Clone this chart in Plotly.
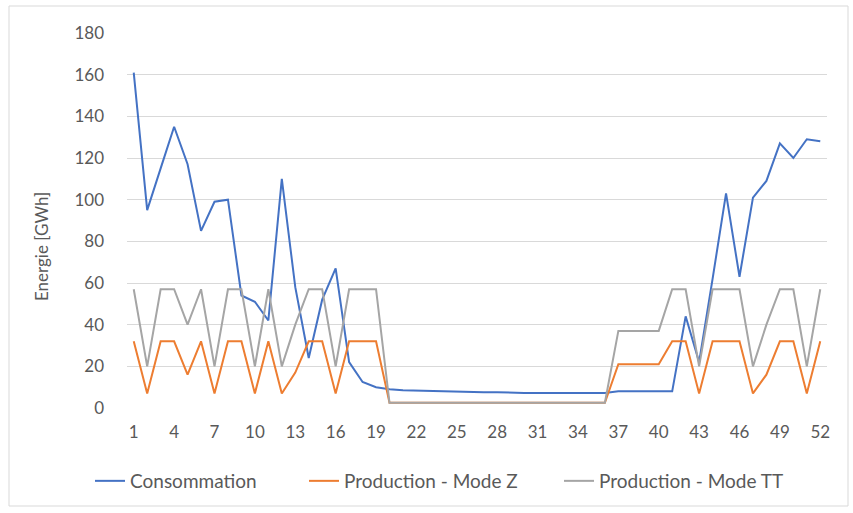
import plotly.graph_objects as go

# Weekly energy (GWh), weeks 1..52
weeks = list(range(1, 53))

consommation = [
    161, 95, 115, 135, 117, 85, 99, 100, 54, 51,
    42, 110, 58, 24, 52, 67, 22, 12.5, 10, 9,
    8.5, 8.3, 8.2, 8, 7.8, 7.6, 7.6, 7.6, 7.3, 7.2,
    7.2, 7.2, 7.2, 7.2, 7.2, 7.2, 8, 8, 8, 8,
    8, 44, 22, 62, 103, 63, 101, 109, 127, 120,
    129, 128,
]

production_z = [
    32, 7, 32, 32, 16, 32, 7, 32, 32, 7,
    32, 7, 17, 32, 32, 7, 32, 32, 32, 2.5,
    2.5, 2.5, 2.5, 2.5, 2.5, 2.5, 2.5, 2.5, 2.5, 2.5,
    2.5, 2.5, 2.5, 2.5, 2.5, 2.5, 21, 21, 21, 21,
    32, 32, 7, 32, 32, 32, 7, 16, 32, 32,
    7, 32,
]

production_tt = [
    57, 20, 57, 57, 40, 57, 20, 57, 57, 20,
    57, 20, 40, 57, 57, 20, 57, 57, 57, 2.5,
    2.5, 2.5, 2.5, 2.5, 2.5, 2.5, 2.5, 2.5, 2.5, 2.5,
    2.5, 2.5, 2.5, 2.5, 2.5, 2.5, 37, 37, 37, 37,
    57, 57, 20, 57, 57, 57, 20, 40, 57, 57,
    20, 57,
]

series_names = ["Consommation", "Production - Mode Z", "Production - Mode TT"]
series_colors = ["#4472C4", "#ED7D31", "#A5A5A5"]

x_tickvals = list(range(1, 53, 3))
y_tickvals = list(range(0, 181, 20))
y_title = "Energie [GWh]"

FONT = "Lato"
TEXT_COLOR = "#595959"
GRID = "#D9D9D9"

W, H = 853, 513
L, R, T, B = 127, 26, 33, 105
pw, ph = W - L - R, H - T - B


def px_x(p):
    return (p - L) / pw


def px_y(p):
    return (H - B - p) / ph


# one legend box per series so each entry sits at its own spot
legend_ids = ["legend", "legend2", "legend3"]
legend_left_px = [90, 304, 559]

fig = go.Figure()
for name, values, color, lid in zip(series_names,
                                    [consommation, production_z, production_tt],
                                    series_colors, legend_ids):
    fig.add_trace(go.Scatter(
        x=weeks, y=values, name=name, mode="lines",
        line=dict(color=color, width=2), legend=lid,
    ))

legend_style = dict(
    orientation="h", xanchor="left", y=px_y(481), yanchor="middle",
    font=dict(size=19, color=TEXT_COLOR, family=FONT),
    bgcolor="rgba(0,0,0,0)",
)
legend_layout = {
    lid: dict(legend_style, x=px_x(xl))
    for lid, xl in zip(legend_ids, legend_left_px)
}

fig.update_layout(
    width=W, height=H,
    margin=dict(l=L, r=R, t=T, b=B),
    paper_bgcolor="white", plot_bgcolor="white",
    font=dict(family=FONT, color=TEXT_COLOR, size=17),
    showlegend=True,
    xaxis=dict(
        range=[0.5, 52.5], tickmode="array", tickvals=x_tickvals,
        ticktext=[str(v) for v in x_tickvals],
        showgrid=False, zeroline=False, showline=False,
        ticks="", ticklabelstandoff=12, tickfont=dict(size=17),
    ),
    yaxis=dict(
        range=[0, 180], tickmode="array", tickvals=y_tickvals,
        showgrid=True, gridcolor=GRID, gridwidth=1,
        zeroline=False, showline=False, ticks="",
        ticklabelstandoff=22, tickfont=dict(size=17),
    ),
    annotations=[dict(
        text=y_title, textangle=-90, showarrow=False,
        xref="paper", yref="paper", x=px_x(41), y=px_y(247),
        xanchor="center", yanchor="middle",
        font=dict(size=17, color=TEXT_COLOR, family=FONT),
    )],
    shapes=[dict(
        type="rect", xref="paper", yref="paper",
        x0=px_x(9), x1=px_x(848), y0=px_y(506), y1=px_y(6),
        line=dict(color=GRID, width=1), fillcolor="rgba(0,0,0,0)",
        layer="below",
    )],
    **legend_layout,
)

fig.write_html("out.html")
